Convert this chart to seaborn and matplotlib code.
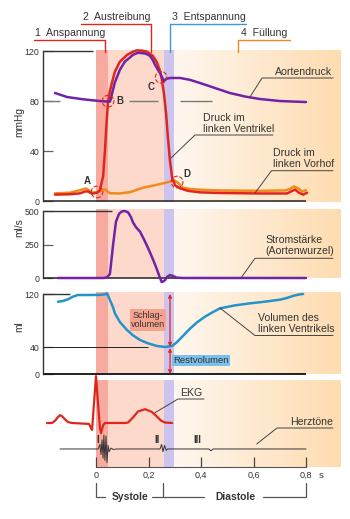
import numpy as np
import pandas as pd
import matplotlib
matplotlib.use('Agg')
import matplotlib.pyplot as plt
import seaborn as sns
from matplotlib.colors import LinearSegmentedColormap

sns.set_theme(style='white')
plt.rcParams['font.family'] = ['Liberation Sans', 'DejaVu Sans']

# ---------------- data ----------------
# phase boundaries (s)
phase_edges = [0.0, 0.045, 0.259, 0.297]
time_ticks = [0.0, 0.2, 0.4, 0.6, 0.8]
time_labels = ['0', '0,2', '0,4', '0,6', '0,8']

# aortic pressure (mmHg)
t_aorta = [-0.156, -0.110, -0.050, 0.015, 0.053, 0.057, 0.061, 0.072, 0.091, 0.110, 0.130,
           0.141, 0.160, 0.175, 0.187, 0.198, 0.206, 0.217, 0.225, 0.236, 0.244, 0.251,
           0.259, 0.267, 0.282, 0.320, 0.358, 0.396, 0.453, 0.510, 0.568, 0.625, 0.701, 0.800]
p_aorta = [86.5, 83.3, 81.5, 80.1, 79.6, 82, 86, 95, 105, 111.5, 115,
           117, 118.6, 118.3, 118, 117, 116, 112.5, 109, 105, 102.5, 99.3,
           96, 97.7, 98.5, 98.5, 97, 94.5, 90.5, 86.5, 83.7, 81.7, 80.1, 79.3]

# left ventricular pressure (mmHg)
t_lv = [-0.156, -0.099, -0.061, -0.042, -0.030, -0.015, 0.004, 0.015, 0.027, 0.034, 0.040,
        0.046, 0.053, 0.061, 0.072, 0.091, 0.118, 0.141, 0.156, 0.175, 0.194, 0.217, 0.232,
        0.244, 0.251, 0.259, 0.267, 0.274, 0.282, 0.290, 0.301, 0.320, 0.350, 0.396, 0.472,
        0.625, 0.728, 0.743, 0.758, 0.773, 0.789, 0.804]
p_lv = [5.5, 5.8, 6.5, 8, 8, 6.2, 7, 9, 20, 40, 62,
        80, 88, 95, 103.5, 111.5, 116.8, 119.5, 120.5, 120.3, 119.5, 116, 111,
        104, 97, 86, 70, 51, 32, 19, 13, 10.5, 8.5, 7.3, 6.8,
        6.4, 6.4, 8, 9.5, 7, 5.5, 7]

# left atrial pressure (mmHg)
t_la = [-0.156, -0.099, -0.061, -0.038, -0.015, 0.004, 0.023, 0.034, 0.053, 0.091, 0.130,
        0.179, 0.225, 0.270, 0.297, 0.312, 0.331, 0.358, 0.396, 0.472, 0.625, 0.720, 0.739,
        0.754, 0.770, 0.785, 0.800]
p_la = [6.5, 7, 9, 10.4, 7.2, 7.5, 8.8, 9.6, 6.6, 6.4, 7.5,
        11, 13, 15.2, 17, 15, 11, 10, 9.4, 8.8, 8.5, 8.8, 10,
        12, 10.5, 8, 9]

# aortic root flow (ml/s)
t_flow = [-0.145, 0.030, 0.042, 0.053, 0.065, 0.076, 0.088, 0.099, 0.110, 0.122, 0.133,
          0.141, 0.152, 0.168, 0.181, 0.193, 0.206, 0.218, 0.229, 0.237, 0.244, 0.250,
          0.257, 0.263, 0.272, 0.282, 0.293, 0.307, 0.330, 0.800]
f_flow = [0, 0, 5, 30, 246, 420, 480, 497, 500, 490, 455,
          415, 380, 345, 295, 246, 190, 134, 80, 37, 0, -30,
          -25, -15, 10, 22, 15, 3, 0, 0]

# left ventricular volume (ml)
t_vol = [-0.145, -0.126, -0.107, -0.088, -0.069, -0.030, 0.015, 0.034, 0.042, 0.053, 0.065,
         0.072, 0.091, 0.118, 0.141, 0.168, 0.198, 0.232, 0.263, 0.290, 0.309, 0.331, 0.358,
         0.385, 0.415, 0.446, 0.472, 0.530, 0.587, 0.644, 0.701, 0.712, 0.731, 0.750, 0.770, 0.789]
v_vol = [108.4, 109.5, 112, 116, 118.5, 118.5, 118.7, 119.5, 121, 111, 100,
         91, 78, 66, 58, 51, 46, 42, 40.5, 42, 48, 57, 68,
         77.5, 86, 93, 98.4, 103, 106, 108.5, 111.5, 112.5, 114.5, 117, 119, 120]
stroke_top, stroke_bottom = 120, 40

# ECG (arbitrary units, baseline 0)
t_ekg = [-0.187, -0.168, -0.156, -0.145, -0.137, -0.130, -0.118, -0.107, -0.091, -0.027,
         -0.015, -0.008, 0.000, 0.008, 0.015, 0.019, 0.027, 0.034, 0.110, 0.122, 0.141,
         0.160, 0.187, 0.213, 0.232, 0.248, 0.263, 0.290]
v_ekg = [0, 0, 0.05, 0.13, 0.17, 0.15, 0.08, 0.02, 0, -0.02,
         -0.15, 0.4, 1.02, 0.4, -0.1, -0.22, -0.05, 0, 0, 0.01, 0.12,
         0.25, 0.30, 0.24, 0.14, 0.05, 0.01, 0]

# heart sounds (arbitrary units around their own baseline)
HS_BASE = -0.565
t_hs = [-0.137, 0.008, 0.015, 0.019, 0.023, 0.027, 0.030, 0.034, 0.038, 0.042, 0.046,
        0.050, 0.057, 0.065, 0.080, 0.244, 0.250, 0.255, 0.261, 0.267, 0.272, 0.430,
        0.438, 0.446, 0.800]
v_hs = [0, 0, 0.1, -0.12, 0.2, -0.2, 0.3, -0.25, 0.28, -0.3, 0.08,
        -0.06, 0.02, -0.01, 0, 0, 0.1, -0.06, 0.08, -0.03, 0, 0,
        -0.04, 0, 0]

# event markers on pressure curves
events = ['A', 'B', 'C', 'D']
event_t = [0.004, 0.046, 0.248, 0.309]
event_p = [7.6, 80, 99, 15.5]

# ---------------- style ----------------
C_ANS = '#f7aaa0'
C_AUS = '#fdd9cb'
C_ENT = '#cdc3ef'
C_PURPLE = '#7222a6'
C_RED = '#e0261c'
C_ORANGE = '#f08a1c'
C_BLUE = '#2393cc'
C_TXT = '#333333'
C_LEAD = '#444444'
cmap_fill = LinearSegmentedColormap.from_list('fill', ['#fff7ef', '#fedcb0'])

W, H = 350, 519
fig = plt.figure(figsize=(W / 100, H / 100), dpi=100)


def axes_px(x0, y0, x1, y1):
    ax = fig.add_axes([x0 / W, 1 - y1 / H, (x1 - x0) / W, (y1 - y0) / H])
    for s in ax.spines.values():
        s.set_visible(False)
    return ax


PX_PER_S = 262.5
T0_PX = 96
XLIM = ((43 - T0_PX) / PX_PER_S, (340 - T0_PX) / PX_PER_S)


def shade(ax, ylim):
    ax.axvspan(phase_edges[0], phase_edges[1], color=C_ANS, lw=0, zorder=0)
    ax.axvspan(phase_edges[1], phase_edges[2], color=C_AUS, lw=0, zorder=0)
    ax.axvspan(phase_edges[2], phase_edges[3], color=C_ENT, lw=0, zorder=0)
    grad = np.linspace(0, 1, 256)[None, :]
    ax.imshow(grad, cmap=cmap_fill, extent=(phase_edges[3], XLIM[1], ylim[0], ylim[1]),
              aspect='auto', zorder=0)
    ax.set_xlim(XLIM)
    ax.set_ylim(ylim)


def left_axis(ax, lo, hi, ticks):
    ax.spines['left'].set_visible(True)
    ax.spines['left'].set_bounds(lo, hi)
    ax.spines['left'].set_color('#333333')
    ax.spines['left'].set_linewidth(1.0)
    ax.set_yticks(ticks)
    ax.set_yticklabels([str(t) for t in ticks])
    ax.tick_params(axis='y', direction='in', length=7, width=0.9, color='#666666',
                   labelsize=6.3, pad=2.5, labelcolor=C_TXT, left=True)
    ax.set_xticks([])


def curve(ax, t, v, color, lw=1.8, z=3):
    sns.lineplot(x=t, y=v, ax=ax, color=color, lw=lw, sort=False, estimator=None,
                 legend=False, clip_on=False, zorder=z)


# ---------------- pressure panel ----------------
ax_p = axes_px(43, 50, 340, 202)
shade(ax_p, (-0.4, 120.8))
left_axis(ax_p, 0, 120, [0, 40, 80, 120])
ax_p.hlines(120, XLIM[0], -0.011, color='#333333', lw=1.0, zorder=2)
ax_p.hlines(0, XLIM[0], 0.80, color='#222222', lw=1.1, zorder=2, clip_on=False)
ax_p.hlines([80, 80, 80], [XLIM[0], 0.126, 0.32], [-0.137, 0.236, 0.442],
            color='#7a7a7a', lw=1.0, zorder=2)
curve(ax_p, t_la, p_la, C_ORANGE, z=3)
curve(ax_p, t_lv, p_lv, C_RED, z=4)
curve(ax_p, t_aorta, p_aorta, C_PURPLE, z=5)
ax_p.scatter(event_t, event_p, s=70, facecolors='none', edgecolors=C_RED,
             linestyles='--', linewidths=0.8, zorder=6, clip_on=False)
ev_lab_t = [-0.034, 0.091, 0.21, 0.347]
ev_lab_p = [16, 80, 91, 22]
for lab, tx, py in zip(events, ev_lab_t, ev_lab_p):
    ax_p.text(tx, py, lab, fontsize=7, fontweight='bold', color=C_TXT,
              ha='center', va='center', zorder=7)

# ---------------- flow panel ----------------
ax_f = axes_px(43, 209, 340, 278)
shade(ax_f, (0, 515))
left_axis(ax_f, 0, 500, [0, 250, 500])
ax_f.hlines(500, XLIM[0], 0.061, color='#333333', lw=1.0, zorder=2)
ax_f.hlines(0, XLIM[0], 0.80, color='#222222', lw=1.1, zorder=2, clip_on=False)
curve(ax_f, t_flow, f_flow, C_PURPLE, z=5)

# ---------------- volume panel ----------------
ax_v = axes_px(43, 292, 340, 374)
shade(ax_v, (0, 123))
left_axis(ax_v, 0, 120, [0, 40, 120])
ax_v.hlines(120, XLIM[0], -0.099, color='#333333', lw=1.0, zorder=2)
ax_v.hlines(40, XLIM[0], 0.198, color='#222222', lw=0.7, zorder=2)
ax_v.hlines(0, XLIM[0], 0.80, color='#111111', lw=1.3, zorder=2, clip_on=False)
curve(ax_v, t_vol, v_vol, C_BLUE, z=5)
ax_v.annotate('', xy=(0.282, stroke_top), xytext=(0.282, stroke_bottom + 1),
              arrowprops=dict(arrowstyle='<|-|>', color=C_RED, lw=0.9, mutation_scale=5,
                              shrinkA=0, shrinkB=0), zorder=6)
ax_v.annotate('', xy=(0.282, stroke_bottom - 1), xytext=(0.282, 0),
              arrowprops=dict(arrowstyle='<|-|>', color=C_RED, lw=0.9, mutation_scale=5,
                              shrinkA=0, shrinkB=0), zorder=6, annotation_clip=False)
ax_v.text(0.198, 81, 'Schlag-\nvolumen', fontsize=6.5, color=C_TXT, ha='center',
          va='center', linespacing=1.05,
          bbox=dict(boxstyle='square,pad=0.15', fc='#f5a28e', ec='none'), zorder=7)
ax_v.text(0.40, 20.2, 'Restvolumen', fontsize=6.8, color=C_TXT, ha='center', va='center',
          bbox=dict(boxstyle='square,pad=0.12', fc='#7cbfea', ec='none'), zorder=7)

# ---------------- ECG / heart sounds panel ----------------
ax_e = axes_px(43, 380, 340, 467)
shade(ax_e, (-0.957, 0.935))
ax_e.spines['bottom'].set_visible(True)
ax_e.spines['bottom'].set_bounds(0, 0.8)
ax_e.spines['bottom'].set_color('#555555')
ax_e.spines['bottom'].set_linewidth(0.8)
ax_e.set_yticks([])
ax_e.set_xticks(time_ticks)
ax_e.set_xticklabels(time_labels)
ax_e.tick_params(axis='x', direction='in', length=7, width=0.9, color='#444444',
                 labelsize=6.5, pad=3, labelcolor=C_TXT, bottom=True)
curve(ax_e, t_ekg, v_ekg, C_RED, lw=1.6, z=5)
curve(ax_e, t_hs, [HS_BASE + v for v in v_hs], '#333333', lw=0.7, z=5)
for lab, tx in zip(['I', 'II', 'III'], [0.008, 0.232, 0.385]):
    ax_e.text(tx, HS_BASE + 0.2, lab, fontsize=7, fontweight='bold', color=C_TXT,
              ha='center', va='center', zorder=7)

# ---------------- overlay (labels, leaders, brackets) ----------------
ov = fig.add_axes([0, 0, 1, 1], zorder=10)
ov.set_xlim(0, W)
ov.set_ylim(H, 0)
ov.axis('off')
ov.patch.set_alpha(0)

FS = 7.6
# phase headers
ov.text(35, 33, '1  Anspannung', fontsize=FS, color=C_TXT, ha='left', va='center')
ov.plot([34, 104.5, 104.5], [39.5, 39.5, 52], color=C_RED, lw=1.0)
ov.text(83, 17.5, '2  Austreibung', fontsize=FS, color=C_TXT, ha='left', va='center')
ov.plot([81, 150.5, 150.5], [24.3, 24.3, 52], color=C_RED, lw=1.0)
ov.text(171.5, 17.5, '3  Entspannung', fontsize=FS, color=C_TXT, ha='left', va='center')
ov.plot([246, 169.5, 169.5], [24.3, 24.3, 52], color='#3a9ad6', lw=1.0)
ov.text(241, 33, '4  Füllung', fontsize=FS, color=C_TXT, ha='left', va='center')
ov.plot([290, 238, 238], [39.5, 39.5, 52], color=C_ORANGE, lw=1.0)

# y labels
ov.text(19.5, 122, 'mmHg', fontsize=7.3, color=C_TXT, rotation=90, ha='center', va='center')
ov.text(19.5, 228, 'ml/s', fontsize=7.3, color=C_TXT, rotation=90, ha='center', va='center')
ov.text(19.5, 327, 'ml', fontsize=7.3, color=C_TXT, rotation=90, ha='center', va='center')


def label(lines_txt, x, ys, ul_y, ul_x0, ul_x1, tip):
    for txt, y in zip(lines_txt, ys):
        ov.text(x, y, txt, fontsize=FS, color=C_TXT, ha='left', va='center')
    ov.plot([ul_x1, ul_x0, tip[0]], [ul_y, ul_y, tip[1]], color=C_LEAD, lw=0.7)


label(['Aortendruck'], 275, [72], 78, 262, 333, (250, 97))
label(['Druck im', 'linken Ventrikel'], 203, [118, 129], 135, 195, 273, (171, 158))
label(['Druck im', 'linken Vorhof'], 273, [153, 164], 170.7, 271.5, 333, (255, 193))
label(['Stromstärke', '(Aortenwurzel)'], 265, [240, 251.5], 258.3, 255, 333, (241.7, 277))
label(['Volumen des', 'linken Ventrikels'], 258, [318, 329], 335.5, 255, 333, (220, 308))
label(['EKG'], 180, [393], 399, 178, 204, (155, 412.7))
label(['Herztöne'], 290, [421.7], 428, 277, 333, (256.7, 444))

ov.text(321, 475, 's', fontsize=6.8, color=C_TXT, ha='center', va='center')

# systole / diastole brackets
ov.plot([96, 96, 105], [483, 497, 497], color='#555555', lw=0.9)
ov.plot([152, 163.3, 163.3], [497, 497, 483], color='#555555', lw=0.9)
ov.plot([163.3, 204], [497, 497], color='#555555', lw=0.9)
ov.plot([263, 306, 306], [497, 497, 483], color='#555555', lw=0.9)
ov.text(130, 497, 'Systole', fontsize=7.4, fontweight='bold', color=C_TXT,
        ha='center', va='center')
ov.text(235, 497, 'Diastole', fontsize=7.4, fontweight='bold', color=C_TXT,
        ha='center', va='center')

fig.savefig('out.png', dpi=100)
